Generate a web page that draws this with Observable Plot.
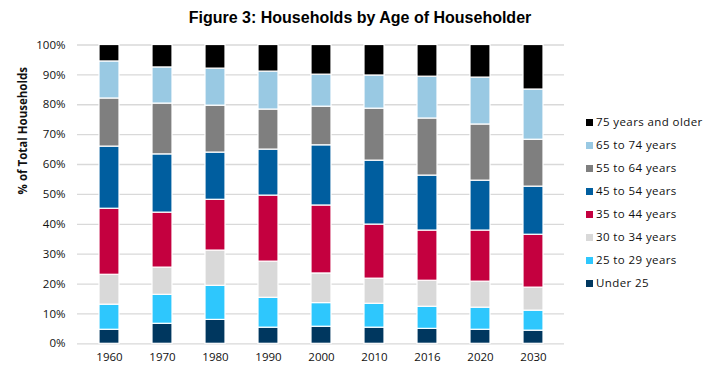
<!DOCTYPE html>
<html>
<head>
<meta charset="utf-8">
<script src="https://cdn.jsdelivr.net/npm/d3@7"></script>
<script src="https://cdn.jsdelivr.net/npm/@observablehq/plot@0.6"></script>
<style>
  html, body { margin: 0; padding: 0; background: #fff; }
  #wrap { position: relative; width: 717px; height: 375px; overflow: hidden; font-family: "Open Sans", sans-serif; }
  #title { position: absolute; left: 0; top: 9px; width: 720px; text-align: center; font-family: "Liberation Sans", Arial, sans-serif; font-weight: bold; font-size: 16px; color: #000; }
  #chart { position: absolute; left: 0; top: 34px; }
  #legend { position: absolute; left: 586px; top: 113px; font-size: 11.5px; color: #111; letter-spacing: 0.4px; }
  .li { height: 23px; line-height: 18px; white-space: nowrap; }
  .sw { display: inline-block; width: 7px; height: 7px; margin-right: 3px; vertical-align: 0px; }
</style>
</head>
<body>
<div id="wrap">
  <div id="title">Figure 3: Households by Age of Householder</div>
  <div id="chart"></div>
  <div id="legend"></div>
</div>
<script>
const years = ["1960","1970","1980","1990","2000","2010","2016","2020","2030"];
const groups = ["Under 25","25 to 29 years","30 to 34 years","35 to 44 years","45 to 54 years","55 to 64 years","65 to 74 years","75 years and older"];
const colors = ["#00375f","#2ec7fd","#d9d9d9","#c4003f","#005e9f","#7f7f7f","#99c9e3","#000000"];
const under25   = [4.7, 6.7, 8.0, 5.4, 5.7, 5.4, 5.0, 4.7, 4.4];
const age25_29  = [8.4, 9.7, 11.4, 10.0, 7.9, 8.0, 7.4, 7.4, 6.7];
const age30_34  = [10.0, 9.1, 11.8, 12.1, 9.9, 8.4, 8.7, 8.7, 7.7];
const age35_44  = [22.1, 18.4, 17.0, 22.1, 22.7, 18.1, 16.8, 17.1, 17.7];
const age45_54  = [20.8, 19.5, 15.8, 15.4, 20.1, 21.4, 18.4, 16.7, 16.1];
const age55_64  = [16.1, 17.0, 15.7, 13.4, 12.9, 17.4, 19.1, 18.8, 15.7];
const age65_74  = [12.4, 12.1, 12.4, 12.7, 10.7, 11.1, 14.0, 15.7, 16.8];
const age75plus = [5.5, 7.5, 7.9, 8.9, 9.9, 10.2, 10.6, 10.9, 14.9];
const yTicks = [0,10,20,30,40,50,60,70,80,90,100];

const series = [under25, age25_29, age30_34, age35_44, age45_54, age55_64, age65_74, age75plus];
const data = [];
years.forEach((yr, i) => {
  const total = series.reduce((s, arr) => s + arr[i], 0);
  series.forEach((arr, g) => data.push({year: yr, group: groups[g], value: arr[i] / total * 100}));
});

const chart = Plot.plot({
  width: 717,
  height: 341,
  marginTop: 10.5,
  marginBottom: 31.7,
  marginLeft: 77,
  marginRight: 153,
  style: {fontFamily: "Open Sans, sans-serif", fontSize: "11.5px", color: "#111", background: "#fff"},
  x: {domain: years, paddingInner: 0.63, paddingOuter: 0.333, label: null, tickSize: 0, tickPadding: 9},
  y: {domain: [0, 100], ticks: yTicks, tickFormat: d => d + "%", label: null, tickSize: 0, tickPadding: 12},
  color: {domain: groups, range: colors},
  marks: [
    Plot.ruleY(yTicks, {stroke: "#d9d9d9", strokeWidth: 1.3}),
    Plot.barY(data, {x: "year", y: "value", fill: "group", order: groups, stroke: "white", strokeWidth: 1.2}),
    Plot.text(["% of Total Households"], {frameAnchor: "left", dx: -54, rotate: -90, fontWeight: "bold", fontSize: 11.5})
  ]
});
document.getElementById("chart").appendChild(chart);

const legend = document.getElementById("legend");
groups.slice().reverse().forEach((g, k) => {
  const c = colors[groups.length - 1 - k];
  const d = document.createElement("div");
  d.className = "li";
  d.innerHTML = `<span class="sw" style="background:${c}"></span>${g}`;
  legend.appendChild(d);
});
</script>
</body>
</html>
